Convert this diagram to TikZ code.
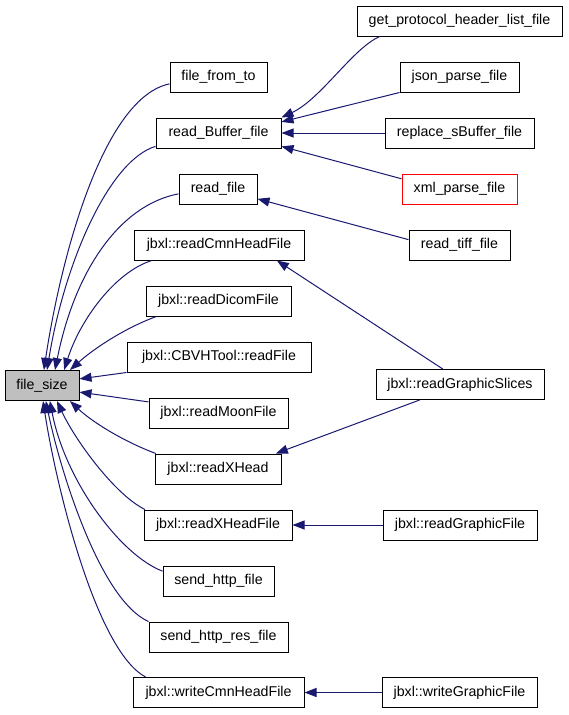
\documentclass[tikz,border=0pt]{standalone}
\usepackage{fontspec}
\setmainfont{Liberation Sans}
\usetikzlibrary{arrows.meta}
\definecolor{edgeblue}{RGB}{25,25,112}
\definecolor{fsgray}{RGB}{191,191,191}
\tikzset{
  fn/.style={draw=black, line width=1pt, inner sep=0pt, minimum height=30pt, font=\fontsize{14.2}{17}\selectfont, fill=white},
  edge/.style={draw=edgeblue, line width=1pt, -{Triangle[length=12pt,width=9pt]}},
}
\begin{document}
\begin{tikzpicture}[x=1pt,y=-1pt]
\useasboundingbox (0,0) rectangle (568,715);
% nodes
\node[fn, fill=fsgray, minimum width=74pt] (fs) at (42,385.5) {file\_size};
\node[fn, minimum width=97pt] (fft) at (218.5,77) {file\_from\_to};
\node[fn, minimum width=125pt] (rbf) at (218.5,133) {read\_Buffer\_file};
\node[fn, minimum width=78pt] (rf) at (218,189) {read\_file};
\node[fn, minimum width=170pt] (rc) at (219,245) {jbxl::readCmnHeadFile};
\node[fn, minimum width=145pt] (rd) at (218.5,301) {jbxl::readDicomFile};
\node[fn, minimum width=184pt] (cbvh) at (219,357) {jbxl::CBVHTool::readFile};
\node[fn, minimum width=139pt] (rm) at (218.5,413) {jbxl::readMoonFile};
\node[fn, minimum width=126pt] (rxh) at (218,469) {jbxl::readXHead};
\node[fn, minimum width=148pt] (rxhf) at (218,525) {jbxl::readXHeadFile};
\node[fn, minimum width=111pt] (shf) at (218.5,581) {send\_http\_file};
\node[fn, minimum width=139pt] (shrf) at (218.5,637) {send\_http\_res\_file};
\node[fn, minimum width=171pt] (wch) at (218.5,692.5) {jbxl::writeCmnHeadFile};
\node[fn, minimum width=205pt] (gp) at (459.5,21) {get\_protocol\_header\_list\_file};
\node[fn, minimum width=119pt] (json) at (459.5,77) {json\_parse\_file};
\node[fn, minimum width=149pt] (rep) at (459.5,133) {replace\_sBuffer\_file};
\node[fn, draw=red, minimum width=115pt] (xml) at (459.5,189) {xml\_parse\_file};
\node[fn, minimum width=101pt] (rt) at (459.5,245) {read\_tiff\_file};
\node[fn, minimum width=168pt] (rgs) at (460,384.5) {jbxl::readGraphicSlices};
\node[fn, minimum width=154pt] (rgf) at (460,525) {jbxl::readGraphicFile};
\node[fn, minimum width=155pt] (wgf) at (459.5,692.5) {jbxl::writeGraphicFile};
% edges into file_size
\draw[edge] (fft.188) .. controls (105,97) and (62,250) .. (fs.83);
\draw[edge] (rbf.192) .. controls (110,160) and (65,260) .. (fs.72);
\draw[edge] (rf.187) .. controls (120,205) and (75,270) .. (fs.50);
\draw[edge] (rc.193) .. controls (115,272) and (80,320) .. (fs.35);
\draw[edge] (rd.194) .. controls (120,330) and (90,352) .. (fs.29);
\draw[edge] (cbvh.south west) -- (fs.10);
\draw[edge] (rm.171) -- (fs.350);
\draw[edge] (rxh.166) .. controls (120,440) and (90,420) .. (fs.331);
\draw[edge] (rxhf.168) .. controls (115,495) and (75,440) .. (fs.314);
\draw[edge] (shf.170) .. controls (120,555) and (65,480) .. (fs.297);
\draw[edge] (shrf.north west) .. controls (100,600) and (60,470) .. (fs.284);
\draw[edge] (wch.168) .. controls (95,650) and (55,480) .. (fs.274);
% right-side edges
\draw[edge] (gp.191) .. controls (353,48) and (321,99) .. (rbf.north east);
\draw[edge] (json.south west) -- (rbf.10);
\draw[edge] (rep.west) -- (rbf.east);
\draw[edge] (xml.170) -- (rbf.348);
\draw[edge] (rt.174) -- (rf.346);
\draw[edge] (rgs.138) -- (rc.345);
\draw[edge] (rgs.201) -- (rxh.15);
\draw[edge] (rgf.west) -- (rxhf.east);
\draw[edge] (wgf.west) -- (wch.east);
\end{tikzpicture}
\end{document}
